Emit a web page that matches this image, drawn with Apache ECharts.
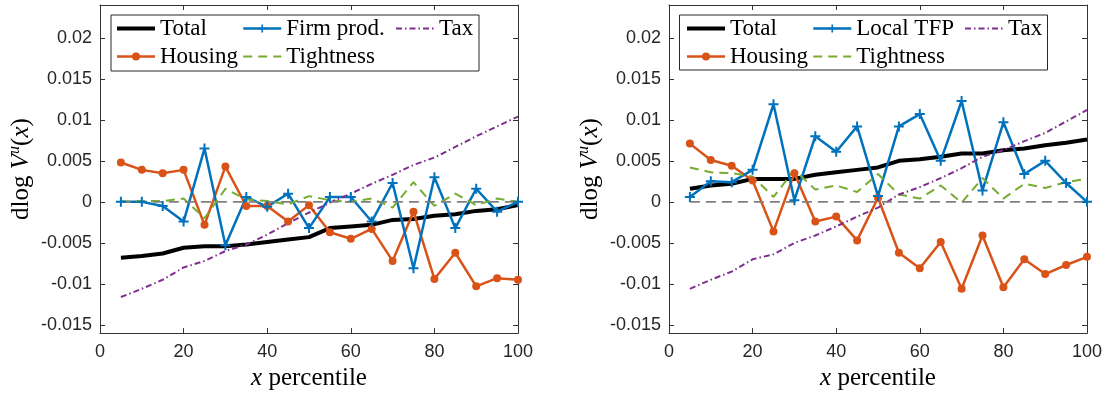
<!DOCTYPE html>
<html>
<head>
<meta charset="utf-8">
<script src="https://cdn.jsdelivr.net/npm/echarts@6/dist/echarts.min.js"></script>
<style>html,body{margin:0;padding:0;background:#fff}#c{width:1107px;height:396px}</style>
</head>
<body>
<div id="c"></div>
<script>
// ---- data ----
const xs = [5,10,15,20,25,30,35,40,45,50,55,60,65,70,75,80,85,90,95,100];
const xTicks = [0,20,40,60,80,100];
const yTicks = [-0.015,-0.01,-0.005,0,0.005,0.01,0.015,0.02];
const zeroLineX = [5,100];

// left panel
const totalA   = [-0.0068,-0.0066,-0.0063,-0.0056,-0.0054,-0.0054,-0.0052,-0.0049,-0.0046,-0.0043,-0.0032,-0.0030,-0.0028,-0.0022,-0.0021,-0.0017,-0.0015,-0.0011,-0.0009,-0.0004];
const housingA = [0.0048,0.0039,0.0035,0.0039,-0.0028,0.0043,-0.0005,-0.0005,-0.0024,-0.0004,-0.0037,-0.0045,-0.0033,-0.0072,-0.0012,-0.0094,-0.0062,-0.0103,-0.0093,-0.0095];
const firmA    = [0.0000,0.0000,-0.0005,-0.0024,0.0065,-0.0053,0.0006,-0.0006,0.0010,-0.0032,0.0006,0.0006,-0.0024,0.0023,-0.0081,0.0030,-0.0032,0.0016,-0.0012,0.0000];
const tightA   = [0.0000,0.0001,0.0001,0.0004,-0.0020,0.0016,0.0003,0.0001,-0.0003,0.0007,0.0002,0.0000,0.0004,-0.0007,0.0024,-0.0005,0.0010,-0.0004,0.0004,0.0000];
const taxA     = [-0.0116,-0.0106,-0.0095,-0.0080,-0.0072,-0.0060,-0.0052,-0.0040,-0.0026,-0.0013,-0.0001,0.0010,0.0022,0.0033,0.0045,0.0054,0.0067,0.0080,0.0092,0.0104];

// right panel
const totalB   = [0.0016,0.0020,0.0022,0.0028,0.0028,0.0028,0.0033,0.0036,0.0039,0.0042,0.0050,0.0052,0.0055,0.0059,0.0059,0.0063,0.0065,0.0069,0.0072,0.0076];
const housingB = [0.0071,0.0051,0.0044,0.0026,-0.0036,0.0035,-0.0024,-0.0018,-0.0047,0.0005,-0.0062,-0.0081,-0.0049,-0.0106,-0.0041,-0.0104,-0.0070,-0.0088,-0.0077,-0.0067];
const tfpB     = [0.0006,0.0025,0.0024,0.0039,0.0119,0.0002,0.0080,0.0061,0.0092,0.0007,0.0092,0.0107,0.0050,0.0123,0.0014,0.0097,0.0034,0.0050,0.0023,0.0000];
const tightB   = [0.0042,0.0036,0.0035,0.0031,0.0006,0.0039,0.0015,0.0020,0.0012,0.0034,0.0009,0.0004,0.0020,-0.0001,0.0029,0.0004,0.0022,0.0017,0.0024,0.0028];
const taxB     = [-0.0106,-0.0095,-0.0085,-0.0070,-0.0064,-0.0050,-0.0041,-0.0030,-0.0018,-0.0007,0.0009,0.0018,0.0029,0.0041,0.0055,0.0063,0.0074,0.0084,0.0098,0.0112];

// ---- styles ----
const C = {total:'#000000', blue:'#0072BD', orange:'#D95319', purple:'#7E2F8E', green:'#77AC30', zero:'#808080', axis:'#333333', text:'#262626'};
const NOSYM = 'rgba(0,0,0,0)';
const PLUS = 'path://M4,0H6V4H10V6H6V10H4V6H0V4H4Z';
const serif = 'Liberation Serif';
const sans = 'Liberation Sans';

const pair = arr => xs.map((x,i)=>[x,arr[i]]);
const fmt = v => String(parseFloat(Number(v).toFixed(4)));

const grids = [
  {left:100, top:5, width:418, height:330},
  {left:669, top:5, width:418, height:330}
];

function xAx(gi, pos){
  const bottom = pos==='bottom';
  return {
    type:'value', gridIndex:gi, position:pos, min:0, max:100, interval:20,
    axisLine:{show:true, onZero:false, lineStyle:{color:C.axis, width:1}},
    axisTick:{show:true, inside:true, length:5, lineStyle:{color:C.axis}},
    axisLabel:{show:bottom, margin:10, fontFamily:sans, fontSize:18, color:C.text},
    splitLine:{show:false},
    name: bottom ? '{i|x}{r| percentile}' : '',
    nameLocation:'middle', nameGap:31,
    nameTextStyle:{rich:{
      i:{fontFamily:serif, fontStyle:'italic', fontSize:25, color:'#000'},
      r:{fontFamily:serif, fontSize:25, color:'#000'}
    }}
  };
}
function yAx(gi, pos){
  const left = pos==='left';
  return {
    type:'value', gridIndex:gi, position:pos, min:-0.016, max:0.024,
    axisLine:{show:true, onZero:false, lineStyle:{color:C.axis, width:1}},
    axisTick:{show:true, inside:true, length:5, customValues:yTicks, lineStyle:{color:C.axis}},
    axisLabel:{show:left, customValues:yTicks, formatter:fmt, margin:8, fontFamily:sans, fontSize:18, color:C.text},
    splitLine:{show:false},
    name: left ? '{r|dlog }{i|V}{s|u}{r|(}{i|x}{r|)}' : '',
    nameLocation:'middle', nameGap:65,
    nameTextStyle:{rich:{
      i:{fontFamily:serif, fontStyle:'italic', fontSize:25, color:'#000', lineHeight:28},
      r:{fontFamily:serif, fontSize:25, color:'#000', lineHeight:28},
      s:{fontFamily:serif, fontStyle:'italic', fontSize:16, color:'#000', lineHeight:16, verticalAlign:'top'}
    }}
  };
}

function panelSeries(xi, yi, total, housing, mid, midName, tight, tax){
  const base = {type:'line', xAxisIndex:xi, yAxisIndex:yi, animation:false, silent:true};
  return [
    Object.assign({}, base, {name:'Total', data:pair(total), symbol:'none', lineStyle:{color:C.total, width:4}, itemStyle:{color:NOSYM}}),
    Object.assign({}, base, {name:'Housing', data:pair(housing), symbol:'circle', symbolSize:8, showSymbol:true, lineStyle:{color:C.orange, width:2.5}, itemStyle:{color:C.orange}}),
    Object.assign({}, base, {name:midName, data:pair(mid), symbol:PLUS, symbolSize:10, showSymbol:true, lineStyle:{color:C.blue, width:2.5}, itemStyle:{color:C.blue}}),
    Object.assign({}, base, {name:'Tightness', data:pair(tight), symbol:'none', lineStyle:{color:C.green, width:2, type:[9,6]}, itemStyle:{color:NOSYM}}),
    Object.assign({}, base, {name:'Tax', data:pair(tax), symbol:'none', lineStyle:{color:C.purple, width:2, type:[6,3,1.5,3]}, itemStyle:{color:NOSYM}}),
    Object.assign({}, base, {name:'zero', data:zeroLineX.map(x=>[x,0]), symbol:'none', lineStyle:{color:C.zero, width:1.8, type:[10,6]}, itemStyle:{color:NOSYM}})
  ];
}

function legend(left, names){
  return {
    orient:'vertical', left:left, top:17, padding:0, itemGap:5,
    itemWidth:38, itemHeight:10, z:20,
    selectedMode:false, data:names,
    lineStyle:{width:'inherit', type:'inherit'},
    textStyle:{fontFamily:serif, fontSize:23, color:'#000', lineHeight:21}
  };
}

const chart = echarts.init(document.getElementById('c'), null, {renderer:'canvas'});
chart.setOption({
  animation:false,
  backgroundColor:'#fff',
  grid:grids,
  xAxis:[xAx(0,'bottom'), xAx(0,'top'), xAx(1,'bottom'), xAx(1,'top')],
  yAxis:[yAx(0,'left'), yAx(0,'right'), yAx(1,'left'), yAx(1,'right')],
  legend:[
    legend(115, ['Total','Housing']),
    legend(242, ['Firm prod.','Tightness']),
    legend(395, ['Tax']),
    legend(685, ['Total','Housing']),
    legend(812, ['Local TFP','Tightness']),
    legend(964, ['Tax'])
  ],
  graphic:[
    {type:'rect', z:10, shape:{x:111, y:15, width:368, height:56}, style:{fill:'#fff', stroke:'#262626', lineWidth:1}},
    {type:'rect', z:10, shape:{x:679.5, y:15, width:368, height:55}, style:{fill:'#fff', stroke:'#262626', lineWidth:1}}
  ],
  series:[].concat(
    panelSeries(0, 0, totalA, housingA, firmA, 'Firm prod.', tightA, taxA),
    panelSeries(2, 2, totalB, housingB, tfpB, 'Local TFP', tightB, taxB)
  )
});
</script>
</body>
</html>
